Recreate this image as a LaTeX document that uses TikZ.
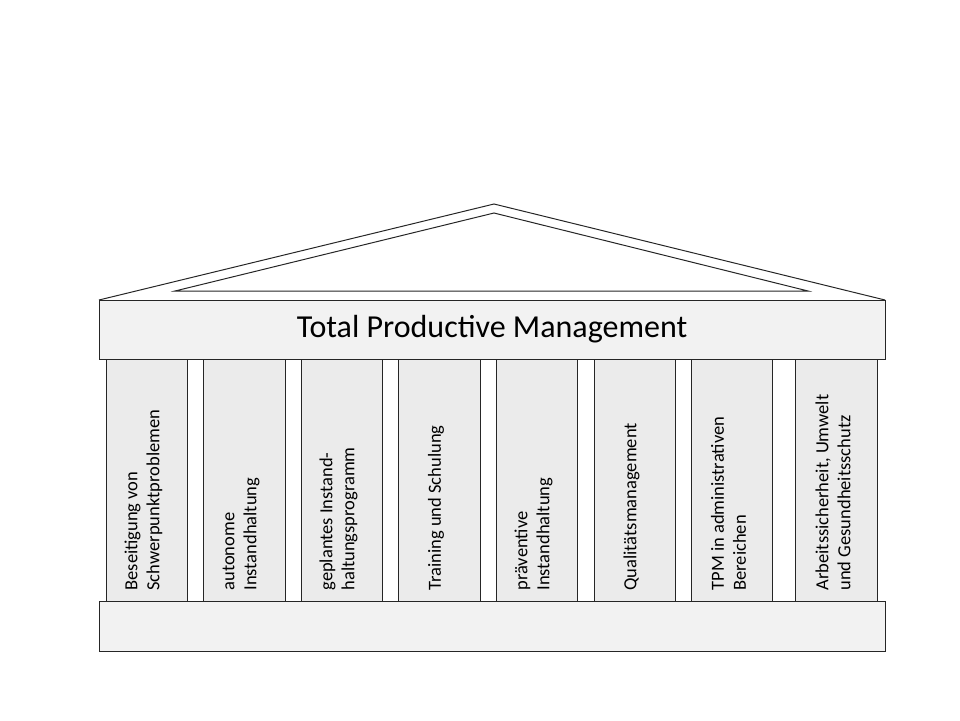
\documentclass[tikz,border=0pt]{standalone}
\usepackage{fontspec}
\setmainfont{Carlito}
\usetikzlibrary{positioning}

\begin{document}
\begin{tikzpicture}[x=1pt,y=-1pt,line width=1pt,
  pillar/.style={draw=black!85,fill=black!8},
  beam/.style={draw=black!85,fill=black!5},
  pillar text/.style={rotate=90,anchor=west,align=left,font=\fontsize{18.5}{22}\selectfont,inner sep=0pt}]
\useasboundingbox (0,0) rectangle (960,720);
% roof
\draw[black!85] (99,300) -- (494,204) -- (885,300);
\draw[black!85] (175,291) -- (494,213) -- (808,291) -- cycle;
\node[beam,minimum width=786,minimum height=59,inner sep=0pt,font=\fontsize{32}{36}\selectfont] (tpm) at (492,329.5) {Total Productive Management};
% base
\draw[beam] (99,601) rectangle (885,651);
% pillars
\foreach \xa/\xb/\txt [count=\i] in {
  106/187/{Beseitigung von\\Schwerpunktproblemen},
  203/285/{autonome\\Instandhaltung},
  301/382/{geplantes Instand-\\haltungsprogramm},
  398/480/{Training und Schulung},
  496/577/{präventive\\Instandhaltung},
  594/675/{Qualitätsmanagement},
  691/772/{TPM in administrativen\\Bereichen},
  795/877/{Arbeitssicherheit, Umwelt\\und Gesundheitsschutz}} {
  \draw[pillar] (\xa,359) rectangle (\xb,601);
  \node[pillar text] (p\i) at ({(\xa+\xb)/2-3},591) {\txt};
}
\end{tikzpicture}
\end{document}
